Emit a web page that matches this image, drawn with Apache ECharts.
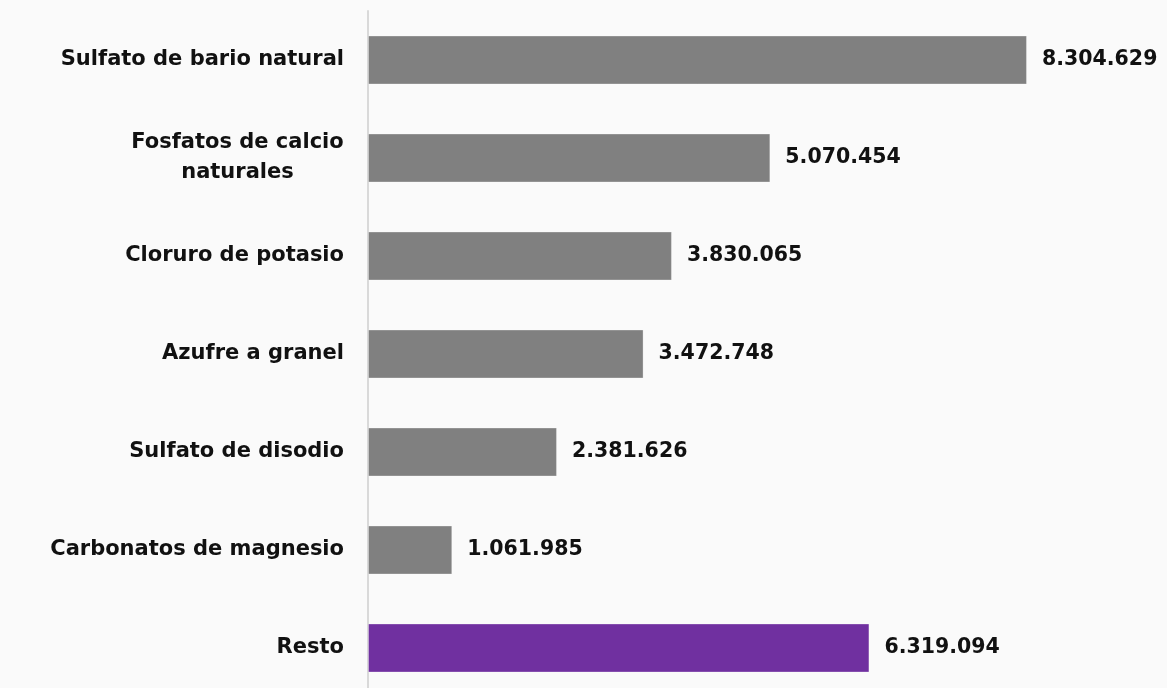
<!DOCTYPE html>
<html>
<head>
<meta charset="utf-8">
<script src="https://cdn.jsdelivr.net/npm/echarts@6/dist/echarts.min.js"></script>
<style>
  html, body { margin: 0; padding: 0; background: #fafafa; }
  #chart { width: 1167px; height: 688px; }
</style>
</head>
<body>
<div id="chart"></div>
<script>
// categories, top to bottom
const categories = [
  'Sulfato de bario natural',
  'Fosfatos de calcio\nnaturales',
  'Cloruro de potasio',
  'Azufre a granel',
  'Sulfato de disodio',
  'Carbonatos de magnesio',
  'Resto'
];
const values = [8304629, 5070454, 3830065, 3472748, 2381626, 1061985, 6319094];
const barColors = ['#808080', '#808080', '#808080', '#808080', '#808080', '#808080', '#7030a0'];

const FONT = '"DejaVu Sans", sans-serif';
const LABEL_SIZE = 21;

function fmt(v) {
  return String(v).replace(/\B(?=(\d{3})+(?!\d))/g, '.');
}

// measure a line so multi-line labels are centred in their block
function textWidth(s) {
  const c = document.createElement('canvas').getContext('2d');
  c.font = 'bold ' + LABEL_SIZE + 'px ' + FONT;
  return Math.ceil(c.measureText(s).width);
}

const myChart = echarts.init(document.getElementById('chart'), null, { renderer: 'canvas' });

const option = {
  backgroundColor: '#fafafa',
  animation: false,
  grid: { left: 368, top: 11, height: 686, right: 5.5, outerBoundsMode: 'none' },
  xAxis: {
    type: 'value',
    min: 0,
    max: 10000000,
    show: false
  },
  yAxis: {
    type: 'category',
    inverse: true,
    data: categories,
    axisLine: { show: true, lineStyle: { color: '#d9d9d9', width: 2 } },
    axisTick: { show: false },
    axisLabel: {
      margin: 24,
      color: '#111',
      fontFamily: FONT,
      fontWeight: 'bold',
      fontSize: LABEL_SIZE,
      lineHeight: 30,
      align: 'right',
      formatter: function (v) {
        if (v.indexOf('\n') < 0) return v;
        return v.split('\n').map(l => '{c|' + l + '}').join('\n');
      },
      rich: {
        c: {
          fontFamily: FONT,
          fontWeight: 'bold',
          fontSize: LABEL_SIZE,
          lineHeight: 30,
          color: '#111',
          align: 'center',
          width: textWidth('Fosfatos de calcio')
        }
      }
    }
  },
  series: [{
    type: 'bar',
    barWidth: 49,
    data: values.map((v, i) => ({ value: v, itemStyle: { color: barColors[i] } })),
    itemStyle: { borderColor: 'rgba(255,255,255,0.3)', borderWidth: 1 },
    label: {
      show: true,
      position: 'right',
      distance: 15,
      color: '#111',
      fontFamily: FONT,
      fontWeight: 'bold',
      fontSize: 20.5,
      formatter: p => fmt(p.value)
    }
  }]
};

myChart.setOption(option, true);
window.addEventListener('resize', myChart.resize);
</script>
</body>
</html>
